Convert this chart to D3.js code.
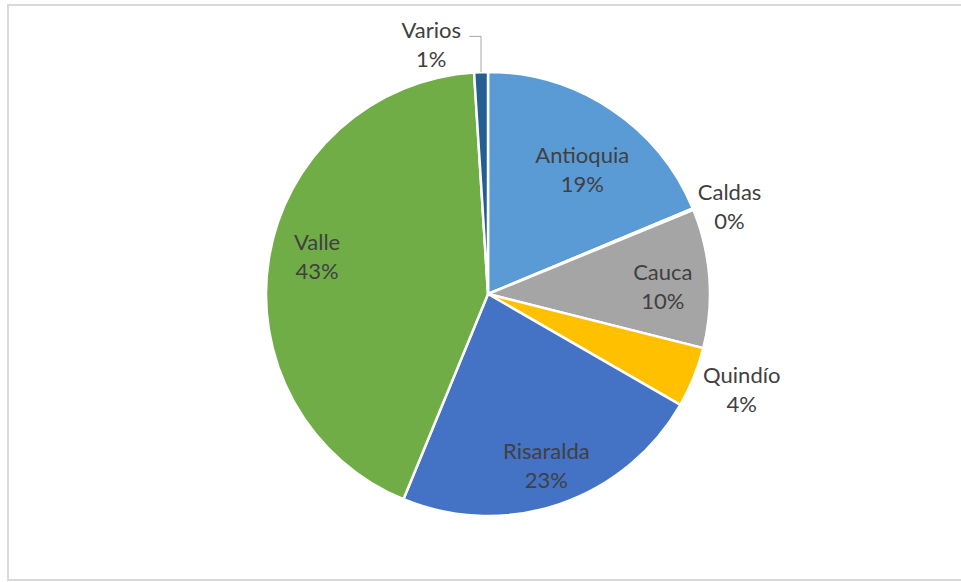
<!DOCTYPE html>
<html>
<head>
<meta charset="utf-8">
<script src="https://cdn.jsdelivr.net/npm/d3@7"></script>
<style>
  html, body { margin: 0; padding: 0; background: #ffffff; }
  svg { display: block; }
</style>
</head>
<body>
<svg id="chart" width="961" height="582"></svg>
<script>
// ---- data ----
const categories = ["Antioquia", "Caldas", "Cauca", "Quindío", "Risaralda", "Valle", "Varios"];
const shares = [18.7, 0.12, 10.1, 4.4, 22.9, 42.78, 1.0];
const percentLabels = ["19%", "0%", "10%", "4%", "23%", "43%", "1%"];

// ---- style / layout (not data) ----
const colors = ["#5B9BD5", "#ED7D31", "#A5A5A5", "#FFC000", "#4472C4", "#70AD47", "#255E91"];
// label placement: radius from centre and angle shift (degrees)
const labelPlacement = {
  "Antioquia": { r: 156, da: 3.5 },
  "Caldas":    { r: 257, da: 2.5 },
  "Cauca":     { r: 175, da: 1.5 },
  "Quindío":   { r: 271, da: -1.5 },
  "Risaralda": { r: 181, da: 0 },
  "Valle":     { r: 175, da: 3 },
  "Varios":    { r: 256, da: -11 }
};

const svg = d3.select("#chart");
const W = 961, H = 582;
const cx = 488, cy = 294, R = 222;

// chart area border
svg.append("rect")
  .attr("x", 8).attr("y", 5)
  .attr("width", 970).attr("height", 575)
  .attr("fill", "#ffffff")
  .attr("stroke", "#d9d9d9")
  .attr("stroke-width", 2);

const data = categories.map((c, i) => ({ name: c, value: shares[i], label: percentLabels[i], color: colors[i] }));

const pie = d3.pie().sort(null).value(d => d.value);
const arcs = pie(data);
const arc = d3.arc().innerRadius(0).outerRadius(R);

const g = svg.append("g").attr("transform", `translate(${cx},${cy})`);

g.selectAll("path.slice")
  .data(arcs)
  .join("path")
  .attr("class", "slice")
  .attr("d", arc)
  .attr("fill", d => d.data.color)
  .attr("stroke", "#ffffff")
  .attr("stroke-width", 2.5)
  .attr("stroke-linejoin", "round");

// labels
const font = "Lato, 'Open Sans', sans-serif";
arcs.forEach(d => {
  const p = labelPlacement[d.data.name];
  const mid = (d.startAngle + d.endAngle) / 2 + p.da * Math.PI / 180;
  const x = p.r * Math.sin(mid);
  const y = -p.r * Math.cos(mid);
  const t = g.append("text")
    .attr("x", x).attr("y", y)
    .attr("text-anchor", "middle")
    .attr("font-family", font)
    .attr("font-size", 22)
    .attr("fill", "#404040");
  t.append("tspan").attr("x", x).attr("y", y - 15).attr("dominant-baseline", "central").text(d.data.name);
  t.append("tspan").attr("x", x).attr("y", y + 14).attr("dominant-baseline", "central").text(d.data.label);

  if (d.data.name === "Varios") {
    const ea = (d.startAngle + d.endAngle) / 2;
    const ex = R * Math.sin(ea), ey = -R * Math.cos(ea);
    const lx = x + 38, ly = y - 8;
    g.append("polyline")
      .attr("points", `${lx},${ly} ${ex},${ly} ${ex},${ey}`)
      .attr("fill", "none")
      .attr("stroke", "#a6a6a6")
      .attr("stroke-width", 1);
  }
});
</script>
</body>
</html>
